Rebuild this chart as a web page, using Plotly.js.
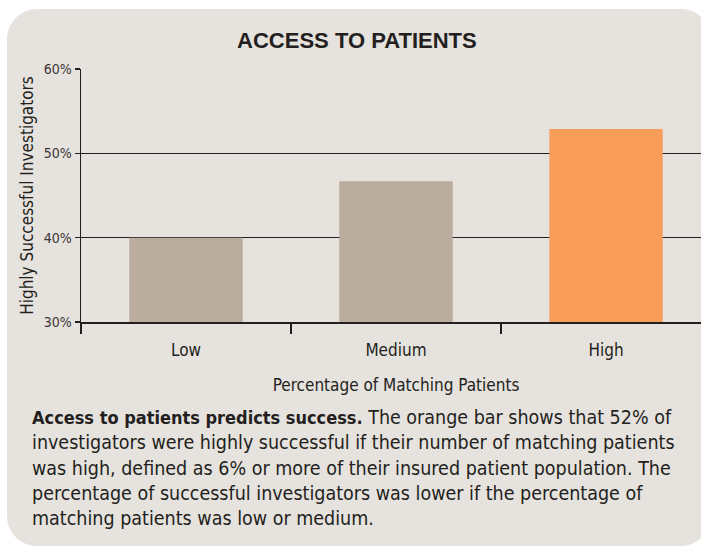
<!DOCTYPE html>
<html>
<head>
<meta charset="utf-8">
<script src="https://cdn.plot.ly/plotly-3.0.1.min.js"></script>
<style>
  html, body { margin: 0; padding: 0; background: #ffffff; overflow: hidden; width: 701px; height: 549px; }
  #panel {
    position: absolute; left: 7px; top: 9px; width: 704px; height: 537px;
    background: #e6e2dd; border-radius: 30px; overflow: hidden;
  }
  #chart { width: 704px; height: 537px; }
</style>
</head>
<body>
<div id="panel"><div id="chart"></div></div>
<script>
// ---- data ----
const categories = ["Low", "Medium", "High"];
const successPct = [40, 46.7, 52.9];
const barColors = ["#baad9e", "#baad9e", "#f89d5a"];
const yTickVals = [30, 40, 50, 60];
const yTickText = ["30%", "40%", "50%", "60%"];

const chartTitle = "ACCESS TO PATIENTS";
const xTitle = "Percentage of Matching Patients";
const yTitle = "Highly Successful Investigators";
const captionLead = "Access to patients predicts success.";
const captionLines = [
  " The orange bar shows that 52% of",
  "investigators were highly successful if their number of matching patients",
  "was high, defined as 6% or more of their insured patient population. The",
  "percentage of successful investigators was lower if the percentage of",
  "matching patients was low or medium."
];

const ink = "#231f20";
const condensed = "'DejaVu Sans Condensed', 'Liberation Sans Narrow', sans-serif";

const trace = {
  type: "bar",
  x: categories,
  y: successPct,
  width: 0.54,
  marker: { color: barColors, line: { width: 0 } },
  hoverinfo: "skip"
};

const captionText = '<span style="font-size:18px"><b>' + captionLead + '</b></span>' + captionLines.join("<br>");

const layout = {
  width: 704,
  height: 537,
  margin: { l: 74, r: 0, t: 60, b: 224, pad: 0 },
  paper_bgcolor: "rgba(0,0,0,0)",
  plot_bgcolor: "rgba(0,0,0,0)",
  showlegend: false,
  font: { family: condensed, color: ink, size: 17 },
  title: {
    text: "<b>" + chartTitle + "</b>",
    font: { family: "'Liberation Sans', Arial, sans-serif", size: 22, color: ink },
    xref: "container", x: 0.497, xanchor: "center",
    yref: "container", y: 0.942, yanchor: "middle"
  },
  xaxis: {
    type: "category",
    range: [-0.5, 2.5],
    fixedrange: true,
    tickson: "boundaries",
    ticks: "outside",
    ticklen: 10,
    tickwidth: 1.5,
    tickcolor: ink,
    showline: true,
    linecolor: ink,
    linewidth: 1.5,
    showgrid: false,
    tickfont: { family: condensed, size: 17, color: ink },
    ticklabelstandoff: 12,
    title: { text: xTitle, font: { family: condensed, size: 17, color: ink }, standoff: 20 }
  },
  yaxis: {
    range: [30, 60],
    fixedrange: true,
    tickmode: "array",
    tickvals: yTickVals,
    ticktext: yTickText,
    ticks: "outside",
    ticklen: 5,
    tickwidth: 1.5,
    tickcolor: ink,
    showline: true,
    linecolor: ink,
    linewidth: 1.5,
    showgrid: true,
    gridcolor: ink,
    gridwidth: 1.3,
    zeroline: false,
    tickfont: { family: condensed, size: 14, color: "#3a3637" },
    title: { text: yTitle, font: { family: condensed, size: 17, color: ink }, standoff: 6 }
  },
  annotations: [{
    xref: "paper", yref: "paper",
    x: -0.081, y: -0.577,
    xanchor: "left", yanchor: "middle",
    align: "left",
    showarrow: false,
    text: captionText,
    font: { family: condensed, size: 19.5, color: ink }
  }]
};

Plotly.newPlot("chart", [trace], layout, { displayModeBar: false, staticPlot: true });
</script>
</body>
</html>
